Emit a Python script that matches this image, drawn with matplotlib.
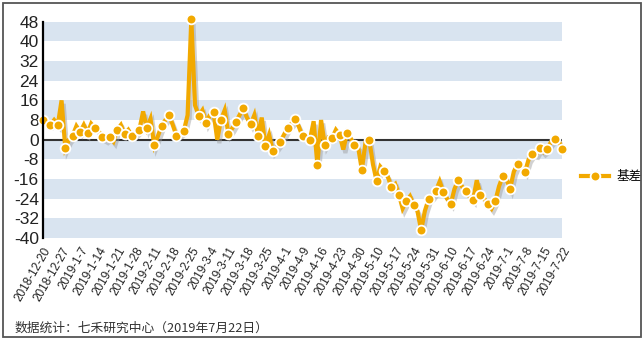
import matplotlib
matplotlib.use("Agg")
import matplotlib.pyplot as plt
import matplotlib.patheffects as pe
from matplotlib.lines import Line2D
from matplotlib.patches import Rectangle

plt.rcParams['font.family'] = ['Liberation Sans', 'Noto Sans CJK SC', 'DejaVu Sans']
plt.rcParams['axes.unicode_minus'] = False

# weekly tick labels (every 5 trading days)
tick_dates = ["2018-12-20", "2018-12-27", "2019-1-7", "2019-1-14", "2019-1-21",
              "2019-1-28", "2019-2-11", "2019-2-18", "2019-2-25", "2019-3-4",
              "2019-3-11", "2019-3-18", "2019-3-25", "2019-4-1", "2019-4-9",
              "2019-4-16", "2019-4-23", "2019-4-30", "2019-5-10", "2019-5-17",
              "2019-5-24", "2019-5-31", "2019-6-10", "2019-6-17", "2019-6-24",
              "2019-7-1", "2019-7-8", "2019-7-15", "2019-7-22"]

# daily basis values
basis = [8.1, 7, 6.1, 8, 6.1, 16, -3.4, 0, 1.7, 5.5,
         3.1, 6, 2.7, 6.5, 4.7, 3.5, 0.9, 0, 1.2, -0.7,
         4.1, 6, 2.3, 4, 1.5, 2.5, 4.1, 11.5, 4.7, 8.5,
         -2.3, 1.5, 5.7, 8, 9.9, 6, 1.6, 2.5, 3.7, 10,
         49, 14, 9.8, 12, 6.8, 10, 11.1, 0, 8.1, 12,
         2.4, 4.5, 7.2, 10, 12.7, 9, 6.2, 10, 1.6, 9,
         -2.7, 2, -4.7, -3, -0.8, 2, 4.9, 6.5, 8.4, 5.4,
         1.4, 1, 0, 7.5, -10.1, 8, -2, 1, 0.7, 4,
         2, -4, 2.7, 0.5, -2, -3, -12.2, -1, 0, -10,
         -16.9, -11, -12.8, -15, -19.3, -18, -22.3, -28, -25, -23,
         -26.6, -29, -36.8, -29, -24.3, -23, -20.7, -17, -21.4, -24,
         -26, -20, -16.5, -19, -20.7, -23, -24.6, -16.5, -22.3, -24,
         -26, -28, -25, -19, -14.9, -16, -19.9, -13, -9.9, -11,
         -13.1, -8, -5.7, -6, -3.4, -5, -3.7, -1, 0.3, 0,
         -3.7]

yticks = list(range(-40, 49, 8))

orange = '#F2A900'
band = '#D9E4F0'

fig = plt.figure(figsize=(6.44, 3.43), dpi=100)
ax = fig.add_axes([0.0668, 0.3061, 0.8059, 0.6306])

# alternating horizontal bands
for lo in yticks[::2]:
    ax.axhspan(lo, lo + 8, color=band, lw=0, zorder=0)

ax.axhline(0, color='#333333', lw=1.5, zorder=1)

x = list(range(len(basis)))
ax.plot(x, basis, color=orange, lw=3, solid_joinstyle='miter', zorder=2, clip_on=False,
        path_effects=[pe.SimpleLineShadow(offset=(1.5, -2.5), shadow_color='#9a9a9a', alpha=0.45),
                      pe.Normal()])
ax.plot(x[::2], basis[::2], ls='none', marker='o', ms=7, mfc=orange,
        mec='white', mew=1.3, zorder=3, clip_on=False)

ax.set_xlim(0, len(basis) - 1)
ax.set_ylim(-40, 48)
ax.set_yticks(yticks)
ax.set_yticklabels([str(v) for v in yticks], fontsize=12.5, color='#222222')
ax.set_xticks(x[::5])
ax.set_xticklabels(tick_dates, rotation=60, ha='right', va='top',
                   rotation_mode='anchor', fontsize=8.5, color='#222222')
ax.tick_params(axis='y', length=0, pad=3)
ax.tick_params(axis='x', length=0, pad=5)

for s in ['top', 'right', 'bottom']:
    ax.spines[s].set_visible(False)
ax.spines['left'].set_color('black')
ax.spines['left'].set_linewidth(1.6)
ax.spines['left'].set_zorder(4)

handle = Line2D([], [], color=orange, lw=3, marker='o', ms=7, mfc=orange,
                mec='white', mew=1.3)
fig.legend([handle], ['基差'], loc='center left', bbox_to_anchor=(0.885, 0.484),
           frameon=False, handlelength=2.2, handletextpad=0.6,
           prop={'family': ['Noto Sans CJK SC'], 'size': 9})

fig.text(0.023, 0.044, '数据统计：七禾研究中心（2019年7月22日）',
         family=['Noto Sans CJK SC', 'DejaVu Sans'], fontsize=9.2,
         color='#333333', va='center')

fig.patches.append(Rectangle((0.004, 0.017), 0.991, 0.974, transform=fig.transFigure,
                             fill=False, edgecolor='#555555', lw=1.3))

fig.savefig('out.png', dpi=100)
